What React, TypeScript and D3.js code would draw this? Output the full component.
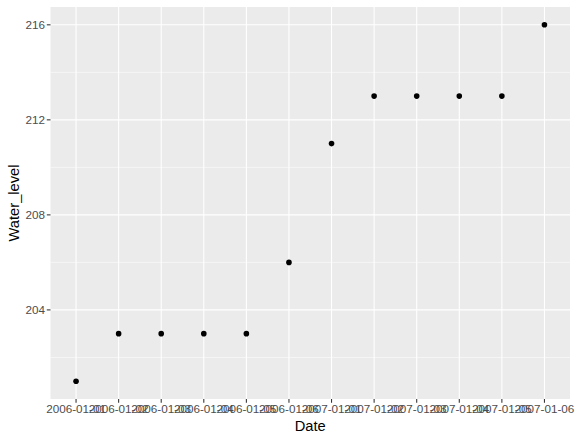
import React from "react";
import * as d3 from "d3";

const dates = [
  "2006-01-01", "2006-01-02", "2006-01-03", "2006-01-04", "2006-01-05", "2006-01-06",
  "2007-01-01", "2007-01-02", "2007-01-03", "2007-01-04", "2007-01-05", "2007-01-06",
];
const waterLevel = [201, 203, 203, 203, 203, 206, 211, 213, 213, 213, 213, 216];
const yTicks = [204, 208, 212, 216];
const yMinor = [202, 206, 210, 214];

const W = 577, H = 441;
const panel = { left: 50.5, right: 570, top: 7, bottom: 399 };

export default function App() {
  const x = d3.scalePoint<string>().domain(dates).range([panel.left, panel.right]).padding(0.6);
  const ext = d3.extent(waterLevel) as [number, number];
  const pad = (ext[1] - ext[0]) * 0.05;
  const y = d3.scaleLinear().domain([ext[0] - pad, ext[1] + pad]).range([panel.bottom, panel.top]);
  const font = "Liberation Sans, Arial, Helvetica, sans-serif";
  return (
    <svg width={W} height={H} style={{ position: "absolute", left: 0, top: 0 }} fontFamily={font}>
      <rect x={0} y={0} width={W} height={H} fill="white" />
      <rect x={panel.left} y={panel.top} width={panel.right - panel.left} height={panel.bottom - panel.top} fill="#EBEBEB" />
      {yMinor.map((t) => (
        <line key={"ym" + t} x1={panel.left} x2={panel.right} y1={y(t)} y2={y(t)} stroke="white" strokeWidth={0.53} />
      ))}
      {yTicks.map((t) => (
        <line key={"y" + t} x1={panel.left} x2={panel.right} y1={y(t)} y2={y(t)} stroke="white" strokeWidth={1.07} />
      ))}
      {dates.map((d) => (
        <line key={"x" + d} x1={x(d)} x2={x(d)} y1={panel.top} y2={panel.bottom} stroke="white" strokeWidth={1.07} />
      ))}
      {dates.map((d, i) => (
        <circle key={"p" + d} cx={x(d)} cy={y(waterLevel[i])} r={2.8} fill="black" />
      ))}
      {yTicks.map((t) => (
        <g key={"yt" + t}>
          <line x1={panel.left - 3.7} x2={panel.left} y1={y(t)} y2={y(t)} stroke="#333333" strokeWidth={1.07} />
          <text x={panel.left - 5.5} y={y(t)} dy="0.35em" textAnchor="end" fontSize={11.7} fill="#4D4D4D">{t}</text>
        </g>
      ))}
      {dates.map((d) => (
        <g key={"xt" + d}>
          <line x1={x(d)} x2={x(d)} y1={panel.bottom} y2={panel.bottom + 3.7} stroke="#333333" strokeWidth={1.07} />
          <text x={x(d)} y={panel.bottom + 14} textAnchor="middle" fontSize={11.7} fill="#4D4D4D">{d}</text>
        </g>
      ))}
      <text x={(panel.left + panel.right) / 2} y={431} textAnchor="middle" fontSize={14.7} fill="black">Date</text>
      <text transform={`translate(19,${(panel.top + panel.bottom) / 2}) rotate(-90)`} textAnchor="middle" fontSize={14.7} fill="black">Water_level</text>
    </svg>
  );
}
